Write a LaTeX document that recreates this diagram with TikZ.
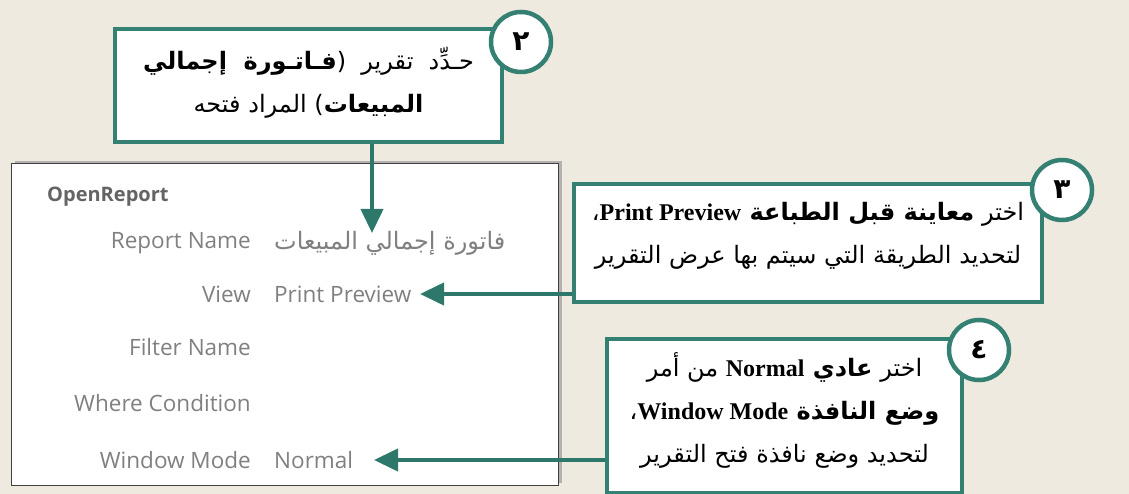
\documentclass[tikz,border=0pt]{standalone}
\usepackage{fontspec}
\usetikzlibrary{arrows.meta,shadows}
\TeXXeTstate=1
\newfontfamily\arabicfont[Script=Arabic]{DejaVu Sans}
\newfontfamily\uifont{Open Sans}
\newfontfamily\latinserif{Liberation Serif}
\definecolor{paper}{RGB}{238,234,224}
\definecolor{teal}{RGB}{52,128,114}
\definecolor{arrowteal}{RGB}{45,120,106}
\definecolor{uigray}{RGB}{128,128,128}
\definecolor{uidark}{RGB}{100,100,100}
\newcommand{\lat}[1]{\beginL{\latinserif\bfseries #1}\endL}
\begin{document}
\begin{tikzpicture}[x=1pt,y=-1pt,
  callout/.style={draw=teal,line width=4pt,fill=white,anchor=north west,inner sep=0pt},
  badge/.style={circle,draw=teal,line width=4.5pt,fill=white,minimum size=60pt,inner sep=0pt,
    font=\arabicfont\bfseries\fontsize{28}{28}\selectfont},
  arabic/.style={font=\arabicfont\fontsize{24}{43}\selectfont,align=center,inner sep=0pt},
  panel/.style={draw=black!75,line width=1.2pt,fill=white,anchor=north west,
    drop shadow={shadow xshift=3pt,shadow yshift=3pt,fill=black!45,opacity=0.6}},
  lbl/.style={font=\uifont\fontsize{22.5}{22.5}\selectfont,text=uigray,anchor=east,inner sep=0pt},
  val/.style={font=\uifont\fontsize{22.5}{22.5}\selectfont,text=uigray,anchor=west,inner sep=0pt},
  arr/.style={draw=arrowteal,line width=4pt,-{Triangle[length=24pt,width=22pt]}}]
  % page background
  \fill[paper] (0,0) rectangle (1129,494);
  \useasboundingbox (0,0) rectangle (1129,494);

  % property sheet of the OpenReport action
  \node[panel,minimum width=547pt,minimum height=322pt] (panel) at (11,163) {};
  \node[font=\uifont\bfseries\fontsize{20}{20}\selectfont,text=uidark,anchor=west,inner sep=0pt]
    (title) at (47,197) {OpenReport};
  \node[lbl] (l1) at (251,243) {Report Name};
  \node[lbl] (l2) at (251,294) {View};
  \node[lbl] (l3) at (251,347) {Filter Name};
  \node[lbl] (l4) at (251,403) {Where Condition};
  \node[lbl] (l5) at (251,460) {Window Mode};
  \node[val,font=\arabicfont\fontsize{24}{24}\selectfont] (v1) at (274,243)
    {\beginR فاتورة إجمالي المبيعات\endR};
  \node[val] (v2) at (274,294) {Print Preview};
  \node[val] (v5) at (274,460) {Normal};

  % step 2
  \node[callout,minimum width=387pt,minimum height=113pt] (box2) at (113,27) {};
  \node[arabic] (t2) at ([yshift=3pt]box2.center)
    {\beginR حـدِّد\ \ تقرير\ \ ({\bfseries فـاتـورة\ \ إجمالي}\endR\\
     \beginR{\bfseries المبيعات}) المراد فتحه\endR};
  \node[badge] (n2) at (521,42) {٢};

  % step 3
  \node[callout,minimum width=468pt,minimum height=118pt] (box3) at (572,182) {};
  \node[arabic] (t3) at ([yshift=7pt]box3.center)
    {\beginR اختر {\bfseries معاينة قبل الطباعة \lat{Print Preview}}،\endR\\
     \beginR لتحديد الطريقة التي سيتم بها عرض التقرير\endR};
  \node[badge] (n3) at (1062,190) {٣};

  % step 4
  \node[callout,minimum width=355pt,minimum height=154pt] (box4) at (605,337) {};
  \node[arabic] (t4) at ([yshift=6pt]box4.center)
    {\beginR اختر {\bfseries عادي \lat{Normal}} من أمر\endR\\
     \beginR{\bfseries وضع النافذة \lat{Window Mode}}،\endR\\
     \beginR لتحديد وضع نافذة فتح التقرير\endR};
  \node[badge] (n4) at (979,350) {٤};

  % connectors
  \coordinate (a2) at (372,233);
  \coordinate (a3) at (420,294);
  \coordinate (a4) at (374,460);
  \draw[arr] (a2 |- box2.south) -- (a2);
  \draw[arr] (a3 -| box3.west) -- (a3);
  \draw[arr] (a4 -| box4.west) -- (a4);
\end{tikzpicture}
\end{document}
